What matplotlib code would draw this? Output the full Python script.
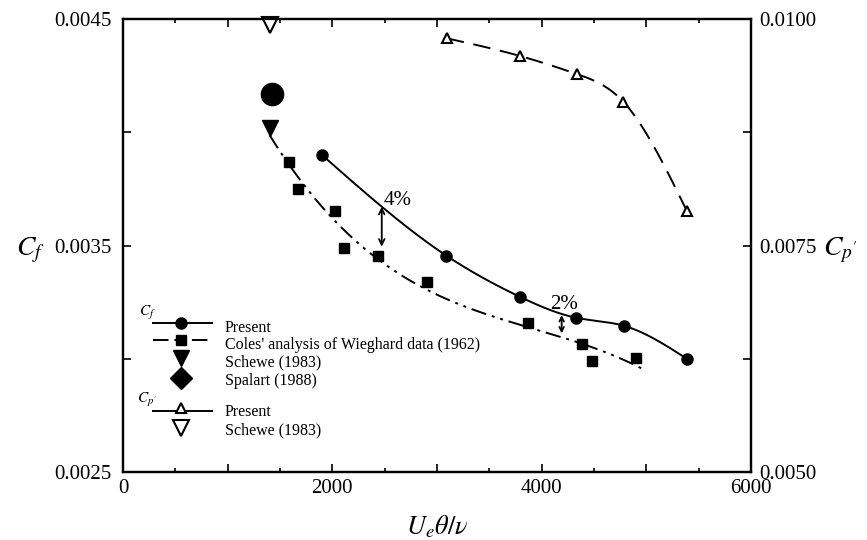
import matplotlib
matplotlib.use("Agg")
import matplotlib.pyplot as plt
import numpy as np

plt.rcParams['font.family'] = ['Liberation Serif', 'DejaVu Serif']
plt.rcParams['mathtext.fontset'] = 'stix'

# Cf, present measurements
cf_x = [1900, 3090, 3790, 4330, 4790, 5390]
cf_y = [0.00390, 0.003455, 0.003274, 0.003181, 0.003145, 0.002999]

# Cf, Coles' analysis of Wieghard data (1962)
coles_x = [1586, 1675, 2025, 2114, 2439, 2901, 3872, 4388, 4484, 4901]
coles_y = [0.00387, 0.003748, 0.003652, 0.00349, 0.003455, 0.00334, 0.003157, 0.003065, 0.002991, 0.003002]

# Cf, Schewe (1983) and Spalart (1988)
schewe_cf_x, schewe_cf_y = [1400], [0.00402]
spalart_x, spalart_y = [1420], [0.004168]

# Cp', present measurements
cp_x = [3093, 3793, 4335, 4780, 5386]
cp_y = [0.009787, 0.009592, 0.009393, 0.009087, 0.007884]

# Cp', Schewe (1983)
schewe_cp_x, schewe_cp_y = [1400], [0.00993]


def spline(x, y, n=300):
    # natural cubic spline y(x) through the points
    x = np.asarray(x, float)
    y = np.asarray(y, float)
    k = len(x)
    h = np.diff(x)
    A = np.zeros((k, k))
    r = np.zeros(k)
    A[0, 0] = A[-1, -1] = 1
    for i in range(1, k - 1):
        A[i, i - 1] = h[i - 1]
        A[i, i] = 2 * (h[i - 1] + h[i])
        A[i, i + 1] = h[i]
        r[i] = 6 * ((y[i + 1] - y[i]) / h[i] - (y[i] - y[i - 1]) / h[i - 1])
    M = np.linalg.solve(A, r)
    xs = np.linspace(x[0], x[-1], n)
    j = np.clip(np.searchsorted(x, xs) - 1, 0, k - 2)
    a = x[j + 1] - xs
    b = xs - x[j]
    hj = h[j]
    ys = (M[j] * a ** 3 + M[j + 1] * b ** 3) / (6 * hj) \
        + (y[j] / hj - M[j] * hj / 6) * a + (y[j + 1] / hj - M[j + 1] * hj / 6) * b
    return xs, ys


fig = plt.figure(figsize=(8.67, 5.40), dpi=100)
ax = fig.add_axes([0.1419, 0.1259, 0.7243, 0.8389])
ax2 = ax.twinx()

# present Cf
sx, sy = spline(cf_x, cf_y)
ax.plot(sx, sy, color='black', lw=1.4)
ax.plot(cf_x, cf_y, 'o', color='black', ms=8)

# Coles fit line, dash-dot-dot
fit_x = np.array(schewe_cf_x + coles_x)
fit_y = np.array(schewe_cf_y + coles_y)
coef = np.polyfit(fit_x, fit_y, 3)
lx = np.linspace(min(fit_x), 4990, 200)
ax.plot(lx, np.polyval(coef, lx), color='black', lw=1.4, dashes=(8, 3, 1.5, 3, 1.5, 3))
ax.plot(coles_x, coles_y, 's', color='black', ms=7.5)

ax.plot(schewe_cf_x, schewe_cf_y, 'v', color='black', ms=12)
ax.plot(spalart_x, spalart_y, 'o', color='black', ms=16)

# Cp' on the right axis
sx, sy = spline(cp_x, cp_y)
ax2.plot(sx, sy, color='black', lw=1.4, dashes=(9, 5))
ax2.plot(cp_x, cp_y, '^', mfc='white', mec='black', mew=1.5, ms=7)
ax2.plot(schewe_cp_x, schewe_cp_y, 'v', mfc='white', mec='black', mew=1.5, ms=11, clip_on=False)

# percentage arrows
ax.annotate('', xy=(2472, 0.003671), xytext=(2472, 0.003495),
            arrowprops=dict(arrowstyle='<->', color='black', lw=1.3, shrinkA=0, shrinkB=0))
ax.text(2490, 0.00368, '4%', fontsize=15)
ax.annotate('', xy=(4191, 0.003193), xytext=(4191, 0.003112),
            arrowprops=dict(arrowstyle='<->', color='black', lw=1.3, shrinkA=0, shrinkB=0,
                            mutation_scale=8))
ax.text(4085, 0.00322, '2%', fontsize=15)

ax.set_xlim(0, 6000)
ax.set_ylim(0.0025, 0.0045)
ax2.set_ylim(0.0050, 0.0100)

ax.set_xticks(range(0, 6001, 1000))
ax.set_xticklabels(['0', '', '2000', '', '4000', '', '6000'])
ax.set_xticks(range(500, 6000, 1000), minor=True)
ax.set_yticks([0.0025, 0.0030, 0.0035, 0.0040, 0.0045])
ax.set_yticklabels(['0.0025', '', '0.0035', '', '0.0045'])
ax2.set_yticks([0.0050, 0.00625, 0.0075, 0.00875, 0.0100])
ax2.set_yticklabels(['0.0050', '', '0.0075', '', '0.0100'])

ax.tick_params(axis='both', which='both', direction='in', top=True, labelsize=15, width=1.2)
ax.tick_params(axis='y', which='major', length=6, pad=8, right=False)
ax.tick_params(axis='x', which='major', length=6, pad=5)
ax.tick_params(axis='x', which='minor', length=3)
ax2.tick_params(axis='y', direction='in', length=6, width=1.2, labelsize=15, pad=6)

for a in (ax, ax2):
    for s in a.spines.values():
        s.set_linewidth(1.6)

ax.text(-0.148, 0.49, r'$C_f$', transform=ax.transAxes, fontsize=20, ha='center', va='center')
ax.text(1.142, 0.49, r"$C_{p'}$", transform=ax.transAxes, fontsize=20, ha='center', va='center')
ax.set_xlabel(r'$U_e\theta/\nu$', fontsize=19, labelpad=11)

# hand-made legend
tr = ax.transAxes
lx0, lx1, mx, tx = 0.048, 0.142, 0.093, 0.162
ax.text(0.038, 0.351, r'$C_f$', transform=tr, fontsize=11, ha='center', va='center')
ax.plot([lx0, lx1], [0.329, 0.329], transform=tr, color='black', lw=1.4)
ax.plot([mx], [0.329], 'o', transform=tr, color='black', ms=8)
ax.plot([lx0, lx1], [0.291, 0.291], transform=tr, color='black', lw=1.4, dashes=(8, 3, 1.5, 3, 1.5, 3))
ax.plot([mx], [0.291], 's', transform=tr, color='black', ms=7.5)
ax.plot([mx], [0.252], 'v', transform=tr, color='black', ms=12)
ax.plot([mx], [0.207], 'D', transform=tr, color='black', ms=11)
ax.text(0.038, 0.159, r"$C_{p'}$", transform=tr, fontsize=11, ha='center', va='center')
ax.plot([lx0, lx1], [0.135, 0.135], transform=tr, color='black', lw=1.4)
ax.plot([mx], [0.142], '^', transform=tr, mfc='white', mec='black', mew=1.5, ms=7)
ax.plot([mx], [0.097], 'v', transform=tr, mfc='white', mec='black', mew=1.5, ms=11)

labels = [(0.318, 'Present'), (0.280, "Coles' analysis of Wieghard data (1962)"),
          (0.241, 'Schewe (1983)'), (0.200, 'Spalart (1988)'),
          (0.132, 'Present'), (0.091, 'Schewe (1983)')]
for fy, lab in labels:
    ax.text(tx, fy, lab, transform=tr, fontsize=11.5, va='center')

fig.savefig('out.png', dpi=100)
